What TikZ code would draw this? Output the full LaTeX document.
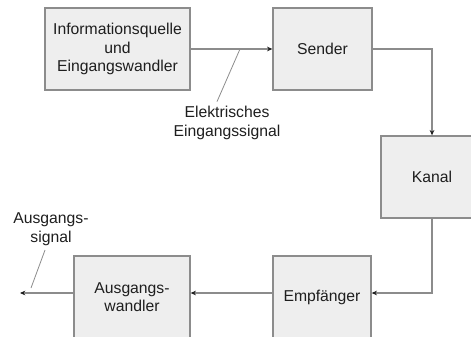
\documentclass[tikz,border=0pt]{standalone}
\usepackage{fontspec}
\setmainfont{Liberation Sans}
\usetikzlibrary{arrows.meta,positioning,calc}
\definecolor{boxfill}{HTML}{EEEEEE}
\definecolor{boxline}{HTML}{8C8C8C}
\definecolor{txt}{HTML}{1E1E1E}

\begin{document}
\begin{tikzpicture}[x=0.75pt, y=0.75pt, >={Stealth[length=4pt,width=3.5pt,color=txt]},
    block/.style={draw=boxline, line width=1pt, fill=boxfill, align=center, text=txt,
        font=\fontsize{11.8}{13.8}\selectfont, inner sep=0pt},
    conn/.style={->, draw=boxline, line width=1pt},
    lbl/.style={align=center, text=txt, font=\fontsize{11.8}{14}\selectfont},
    ptr/.style={draw=boxline, line width=0.6pt}]
        \useasboundingbox (0,0) rectangle (471,336);
        \clip (0,0) rectangle (471,336);

        % Informationsquelle (top left)
        \node[block, minimum width=108.75pt, minimum height=61.5pt] (quelle) at (117.5,287)
            {Informationsquelle\\und\\Eingangswandler};

        % Sender (top middle)
        \node[block, minimum width=74.25pt, minimum height=61.5pt] (sender) at (322.5,287) {Sender};

        % Kanal (right, cut by the edge)
        \node[block, minimum width=76.5pt, minimum height=61.5pt] (kanal) at (432,159) {Kanal};

        % Empfaenger (bottom middle)
        \node[block, minimum width=73.5pt, minimum height=61.5pt] (empf) at (322,39) {Empfänger};

        % Ausgangswandler (bottom left)
        \node[block, minimum width=87pt, minimum height=61.5pt] (wandler) at (132,39) {Ausgangs-\\wandler};

        % row of the lower arrows, free end of the output
        \coordinate (unten) at (0,43);
        \coordinate (aus) at (20,43);

        % signal chain
        \draw[conn] (quelle) -- (sender);
        \draw[conn] (sender.east) -| (kanal.north);
        \draw[conn] (kanal.south) |- (empf.east |- unten);
        \draw[conn] (empf.west |- unten) -- (wandler.east |- unten);
        \draw[conn] (wandler.west |- unten) -- (aus);

        % Elektrisches Eingangssignal
        \node[lbl] (elab) at (227,213) {Elektrisches\\Eingangssignal};
        \coordinate (p1) at (240,287);
        \draw[ptr] ([xshift=-7.5pt]elab.north) -- (p1);

        % Ausgangssignal
        \node[lbl] (alab) at (51,107) {Ausgangs-\\signal};
        \coordinate (p2) at (31,48);
        \draw[ptr] ([xshift=-4.5pt]alab.south) -- (p2);

    \end{tikzpicture}
\end{document}
